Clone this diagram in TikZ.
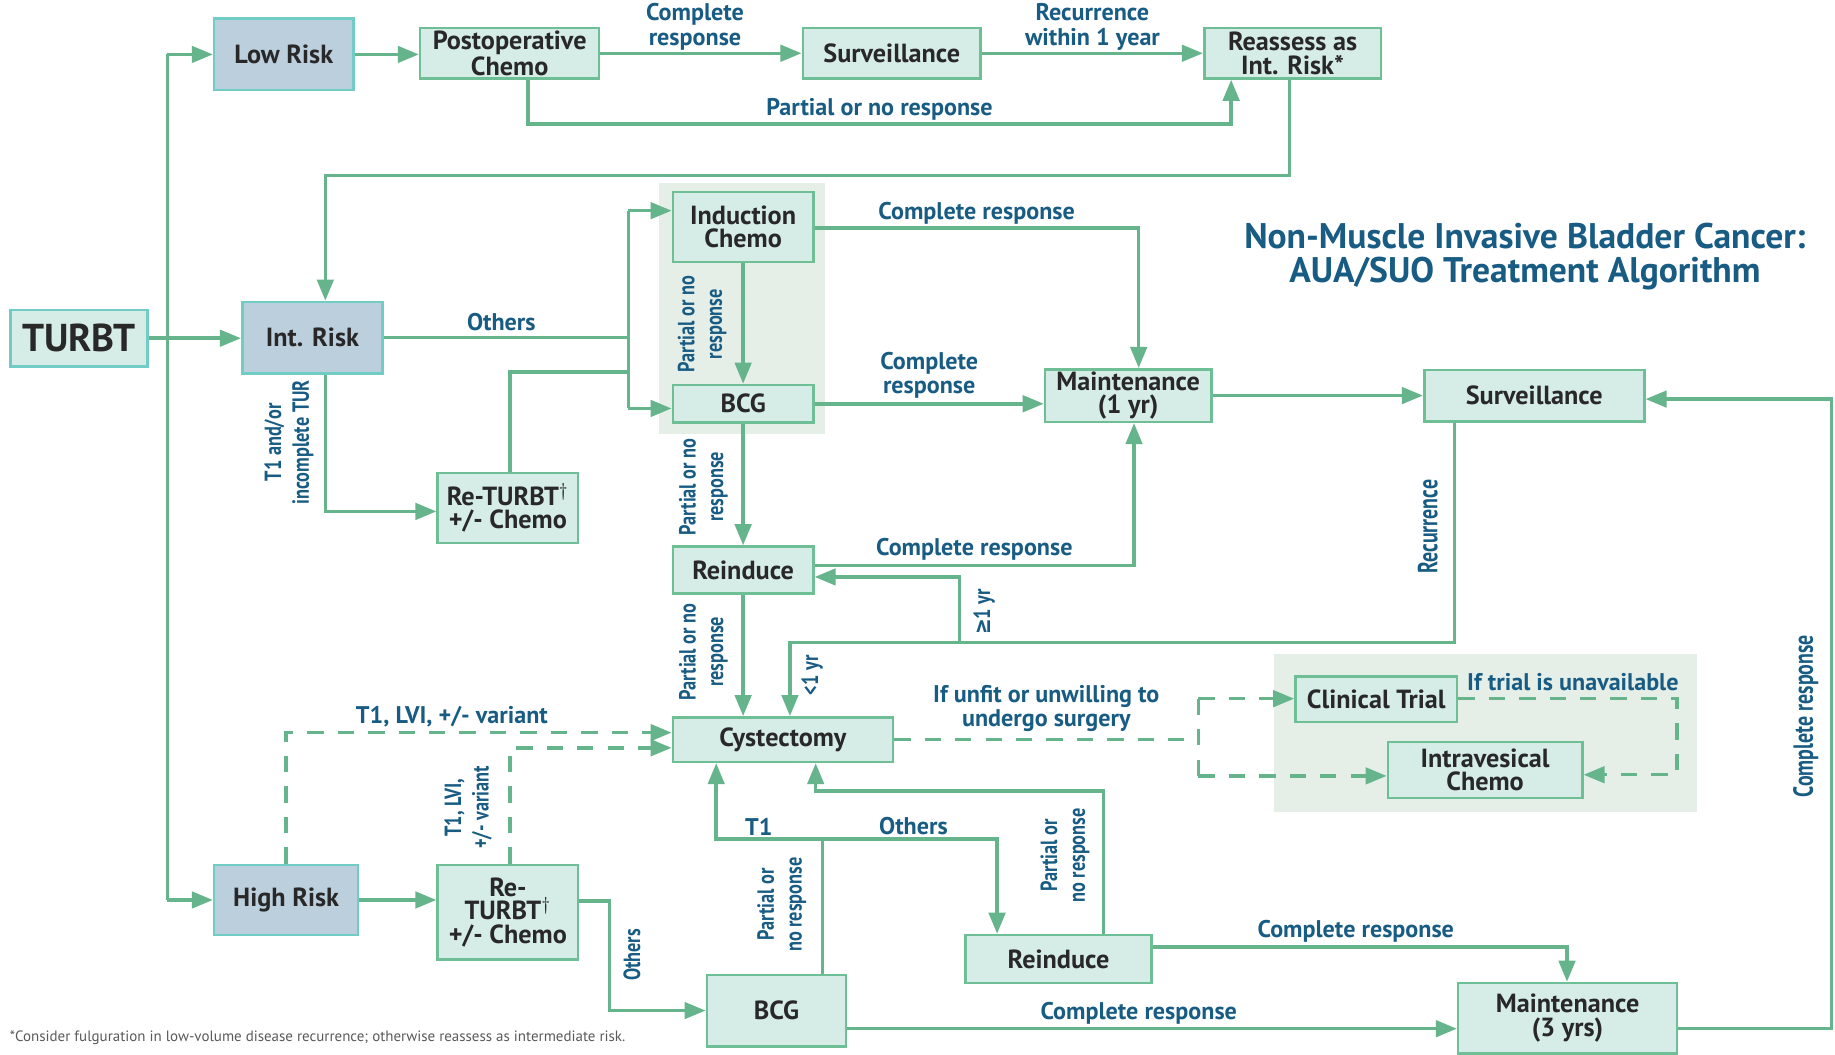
\documentclass[tikz,border=0pt]{standalone}
\usepackage{fontspec}
\setmainfont{PT Sans}
\newfontfamily\condf{PT Sans}[FakeStretch=0.78]
\newfontfamily\condff{PT Sans}[FakeStretch=0.72]
\newfontfamily\symf{DejaVu Sans}[FakeStretch=0.8]
\usetikzlibrary{arrows.meta}
\definecolor{lgreen}{RGB}{102,180,140}
\definecolor{boxline}{RGB}{110,190,150}
\definecolor{tealline}{RGB}{112,204,196}
\definecolor{boxfill}{RGB}{214,236,231}
\definecolor{riskfill}{RGB}{188,207,221}
\definecolor{panelfill}{RGB}{229,239,232}
\definecolor{lblblue}{RGB}{24,92,132}
\definecolor{boxtext}{RGB}{40,40,40}
\definecolor{footgray}{RGB}{90,90,90}
\tikzset{
  box/.style={draw=boxline, fill=boxfill, line width=1.1pt, align=center,
    font=\fontsize{11.2}{10}\selectfont\bfseries, text=boxtext, inner sep=1pt},
  riskbox/.style={box, draw=tealline, fill=riskfill},
  panel/.style={fill=panelfill, draw=none, inner sep=0pt},
  lbl/.style={font=\fontsize{10.3}{10.5}\selectfont\bfseries, text=lblblue, align=center, inner sep=1pt},
  rlbl/.style={lbl, rotate=90, font=\condf\fontsize{10}{11.8}\selectfont\bfseries},
  rlblw/.style={lbl, rotate=90, font=\condff\fontsize{11.8}{12}\selectfont\bfseries},
  ln/.style={draw=lgreen, line width=1.5pt},
  conn/.style={ln, -{Triangle[length=9pt,width=7pt]}},
  dln/.style={ln, dash pattern=on 7pt off 6pt},
  dconn/.style={conn, dash pattern=on 7pt off 6pt},
}
\begin{document}
\begin{tikzpicture}[x=0.5pt,y=-0.5pt]
\useasboundingbox[fill=white] (0,0) rectangle (1568,901);
% panels
\node[panel, minimum width=71pt, minimum height=107.5pt] (pan1) at (634,263.5) {};
\node[panel, minimum width=180.5pt, minimum height=67.5pt] (pan2) at (1269.5,626.5) {};
% nodes
\node[box, draw=tealline, minimum width=58.5pt, minimum height=24pt, font=\fontsize{16.6}{17}\selectfont\bfseries] (turbt) at (67.5,289) {TURBT};
\node[riskbox, minimum width=59.5pt, minimum height=30.5pt] (lowrisk) at (242.5,46.5) {Low Risk};
\node[box, minimum width=76.5pt, minimum height=21.5pt] (postop) at (435.5,45.5) {Postoperative\\Chemo};
\node[box, minimum width=76pt, minimum height=21.5pt] (survtop) at (762,45.5) {Surveillance};
\node[box, minimum width=75.5pt, minimum height=21.5pt] (reassess) at (1104.5,45.5) {Reassess as\\Int. Risk*};
\node[riskbox, minimum width=60pt, minimum height=30.5pt] (intrisk) at (267,288.5) {Int. Risk};
\node[box, minimum width=60pt, minimum height=30pt] (induction) at (635,194) {Induction\\Chemo};
\node[box, minimum width=60pt, minimum height=16pt] (bcg1) at (635,345) {BCG};
\node[box, minimum width=71pt, minimum height=22pt] (maint1) at (964,338) {Maintenance\\(1 yr)};
\node[box, minimum width=94pt, minimum height=22pt] (survr) at (1311,338) {Surveillance};
\node[box, minimum width=60pt, minimum height=30pt] (returbt1) at (434,434) {Re-TURBT$^{\dagger}$\\+/- Chemo};
\node[box, minimum width=60pt, minimum height=20pt] (reinduce1) at (635,487) {Reinduce};
\node[box, minimum width=94pt, minimum height=19pt] (cyst) at (669,632) {Cystectomy};
\node[box, minimum width=69pt, minimum height=19.5pt] (ctrial) at (1176,597.5) {Clinical Trial};
\node[box, minimum width=83pt, minimum height=24pt] (ivchemo) at (1269,658) {Intravesical\\Chemo};
\node[riskbox, minimum width=61.5pt, minimum height=30pt] (highrisk) at (244.5,769) {High Risk};
\node[box, minimum width=60pt, minimum height=40.5pt] (returbt2) at (434,779.5) {Re-\\TURBT$^{\dagger}$\\+/- Chemo};
\node[box, minimum width=59.5pt, minimum height=30.5pt] (bcg2) at (663.5,863.5) {BCG};
\node[box, minimum width=79.5pt, minimum height=20.5pt] (reinduce2) at (904.5,819.5) {Reinduce};
\node[box, minimum width=93.5pt, minimum height=30pt] (maint3) at (1339.5,870) {Maintenance\\(3 yrs)};
% title and footnote
\node[lbl, font=\fontsize{15.2}{14.5}\selectfont\bfseries] (title) at (1303,219) {Non-Muscle Invasive Bladder Cancer:\\AUA/SUO Treatment Algorithm};
\node[lbl, anchor=west, text=footgray, font=\fontsize{6.4}{7}\selectfont] (foot) at (6,887) {*Consider fulguration in low-volume disease recurrence; otherwise reassess as intermediate risk.};
% helper coordinates
\coordinate (tk) at (143,0);
\coordinate (c451) at (451,106);
\coordinate (c1052) at (1052,106);
\coordinate (r1) at (1102,150);
\coordinate (r2) at (278,150);
\coordinate (j1) at (537,180);
\coordinate (j2) at (537,349);
\coordinate (j3) at (436,318);
\coordinate (k1) at (278,437);
\coordinate (m1) at (973,195);
\coordinate (n1) at (969,483);
\coordinate (s1) at (1243,549);
\coordinate (s2) at (675,549);
\coordinate (s3) at (820,549);
\coordinate (s4) at (820,493);
\coordinate (h1) at (244.5,626);
\coordinate (h2) at (436,639);
\coordinate (o1) at (521,770);
\coordinate (p1) at (703,717);
\coordinate (p2) at (612,717);
\coordinate (p3) at (852,717);
\coordinate (q1) at (943,676);
\coordinate (q2) at (697,676);
\coordinate (t1) at (1339,809);
\coordinate (u1) at (0,879);
\coordinate (v1) at (1565,879);
\coordinate (v2) at (1565,341);
\coordinate (w1) at (1024,632);
\coordinate (w2) at (1024,597);
\coordinate (w3) at (1024,663);
\coordinate (x1) at (1433,597);
\coordinate (x2) at (1433,662);
% connectors
\draw[conn] (turbt.east) -- (turbt.east -| intrisk.west);
\draw[ln] (tk |- lowrisk.west) -- (tk |- highrisk.west);
\draw[conn] (tk |- lowrisk.west) -- (lowrisk.west);
\draw[conn] (tk |- highrisk.west) -- (highrisk.west);
\draw[conn] (lowrisk.east) -- (lowrisk.east -| postop.west);
\draw[conn] (postop.east) -- node[lbl, above=-0.5pt, pos=0.47] (lb1) {Complete\\response} (survtop.west);
\draw[conn] (survtop.east) -- node[lbl, above=-0.5pt] (lb2) {Recurrence\\within 1 year} (reassess.west);
\draw[conn] (postop.south -| c451) -- (c451) -- node[lbl, above=0pt] (lb3) {Partial or no response} (c1052) -- (reassess.south -| c1052);
\draw[conn] (reassess.south -| r1) -- (r1) -- (r2) -- (intrisk.north -| r2);
\draw[ln] (intrisk.east) -- node[lbl, above=1pt, pos=0.48] (lb4) {Others} (intrisk.east -| j1);
\draw[ln] (j1) -- (j2);
\draw[conn] (j1) -- (j1 -| induction.west);
\draw[conn] (j2) -- (j2 -| bcg1.west);
\draw[ln] (returbt1.north -| j3) -- (j3) -- (j3 -| j1);
\draw[conn] (intrisk.south -| k1) -- (k1) -- (k1 -| returbt1.west);
\node[rlbl] (lb5) at (247,378) {T1 and/or\\incomplete TUR};
\draw[conn] (induction.east |- m1) -- node[lbl, above=0pt] (lb6) {Complete response} (m1) -- (m1 |- maint1.north);
\draw[conn] (induction.south) -- (bcg1.north);
\node[rlbl] (lb7) at (600,277) {Partial or no\\response};
\draw[conn] (bcg1.east) -- node[lbl, above=0.5pt] (lb8) {Complete\\response} (bcg1.east -| maint1.west);
\draw[conn] (maint1.east) -- (maint1.east -| survr.west);
\draw[conn] (bcg1.south) -- (reinduce1.north);
\node[rlbl] (lb9) at (601,416) {Partial or no\\response};
\draw[conn] (reinduce1.east |- n1) -- node[lbl, above=0.5pt] (lb10) {Complete response} (n1) -- (n1 |- maint1.south);
\draw[conn] (survr.south -| s1) -- (s1) -- (s2) -- (cyst.north -| s2);
\draw[conn] (s3) -- (s4) -- (s4 -| reinduce1.east);
\node[rlblw] (lb11) at (1220,450) {Recurrence};
\node[rlbl] (lb12) at (841,523) {{\symf ≥}1 yr};
\node[rlbl] (lb13) at (694,577) {<1 yr};
\draw[conn] (reinduce1.south) -- (reinduce1.south |- cyst.north);
\node[rlbl] (lb14) at (601,557) {Partial or no\\response};
\draw[dconn] (highrisk.north) -- (h1) -- node[lbl, above=0.5pt, pos=0.43] (lb15) {T1, LVI, +/- variant} (h1 -| cyst.west);
\draw[dconn] (returbt2.north -| h2) -- (h2) -- (h2 -| cyst.west);
\node[rlbl] (lb16) at (400,690) {T1, LVI,\\+/- variant};
\draw[conn] (highrisk.east) -- (highrisk.east -| returbt2.west);
\draw[conn] (returbt2.east |- o1) -- (o1) -- (o1 |- bcg2.west) -- (bcg2.west);
\node[rlbl] (lb17) at (540,816) {Others};
\draw[ln] (bcg2.north -| p1) -- (p1);
\draw[conn] (p1) -- node[lbl, above=0pt, pos=0.6] (lb18) {T1} (p2) -- (p2 |- cyst.south);
\draw[conn] (p1) -- node[lbl, above=0pt, pos=0.52] (lb19) {Others} (p3) -- (p3 |- reinduce2.north);
\node[rlbl] (lb20) at (668,773) {Partial or\\no response};
\draw[conn] (reinduce2.north -| q1) -- (q1) -- (q2) -- (q2 |- cyst.south);
\node[rlbl] (lb21) at (910,731) {Partial or\\no response};
\draw[conn] (reinduce2.east |- t1) -- node[lbl, above=0pt, pos=0.49] (lb22) {Complete response} (t1) -- (t1 |- maint3.north);
\draw[conn] (bcg2.east |- u1) -- node[lbl, above=0pt, pos=0.478] (lb23) {Complete response} (maint3.west |- u1);
\draw[conn] (maint3.east |- v1) -- (v1) -- (v2) -- (v2 -| survr.east);
\node[rlblw] (lb24) at (1543,612) {Complete response};
\draw[dln] (cyst.east) -- node[lbl, above=1.5pt, font=\fontsize{10.3}{8}\selectfont\bfseries] (lb25) {If unfit or unwilling to\\undergo surgery} (w1);
\draw[dln] (w2) -- (w3);
\draw[dconn] (w2) -- (w2 -| ctrial.west);
\draw[dconn] (w3) -- (w3 -| ivchemo.west);
\draw[dconn] (ctrial.east |- x1) -- (x1) -- (x2) -- (x2 -| ivchemo.east);
\node[lbl] (lb26) at (1344,583) {If trial is unavailable};
\end{tikzpicture}
\end{document}
